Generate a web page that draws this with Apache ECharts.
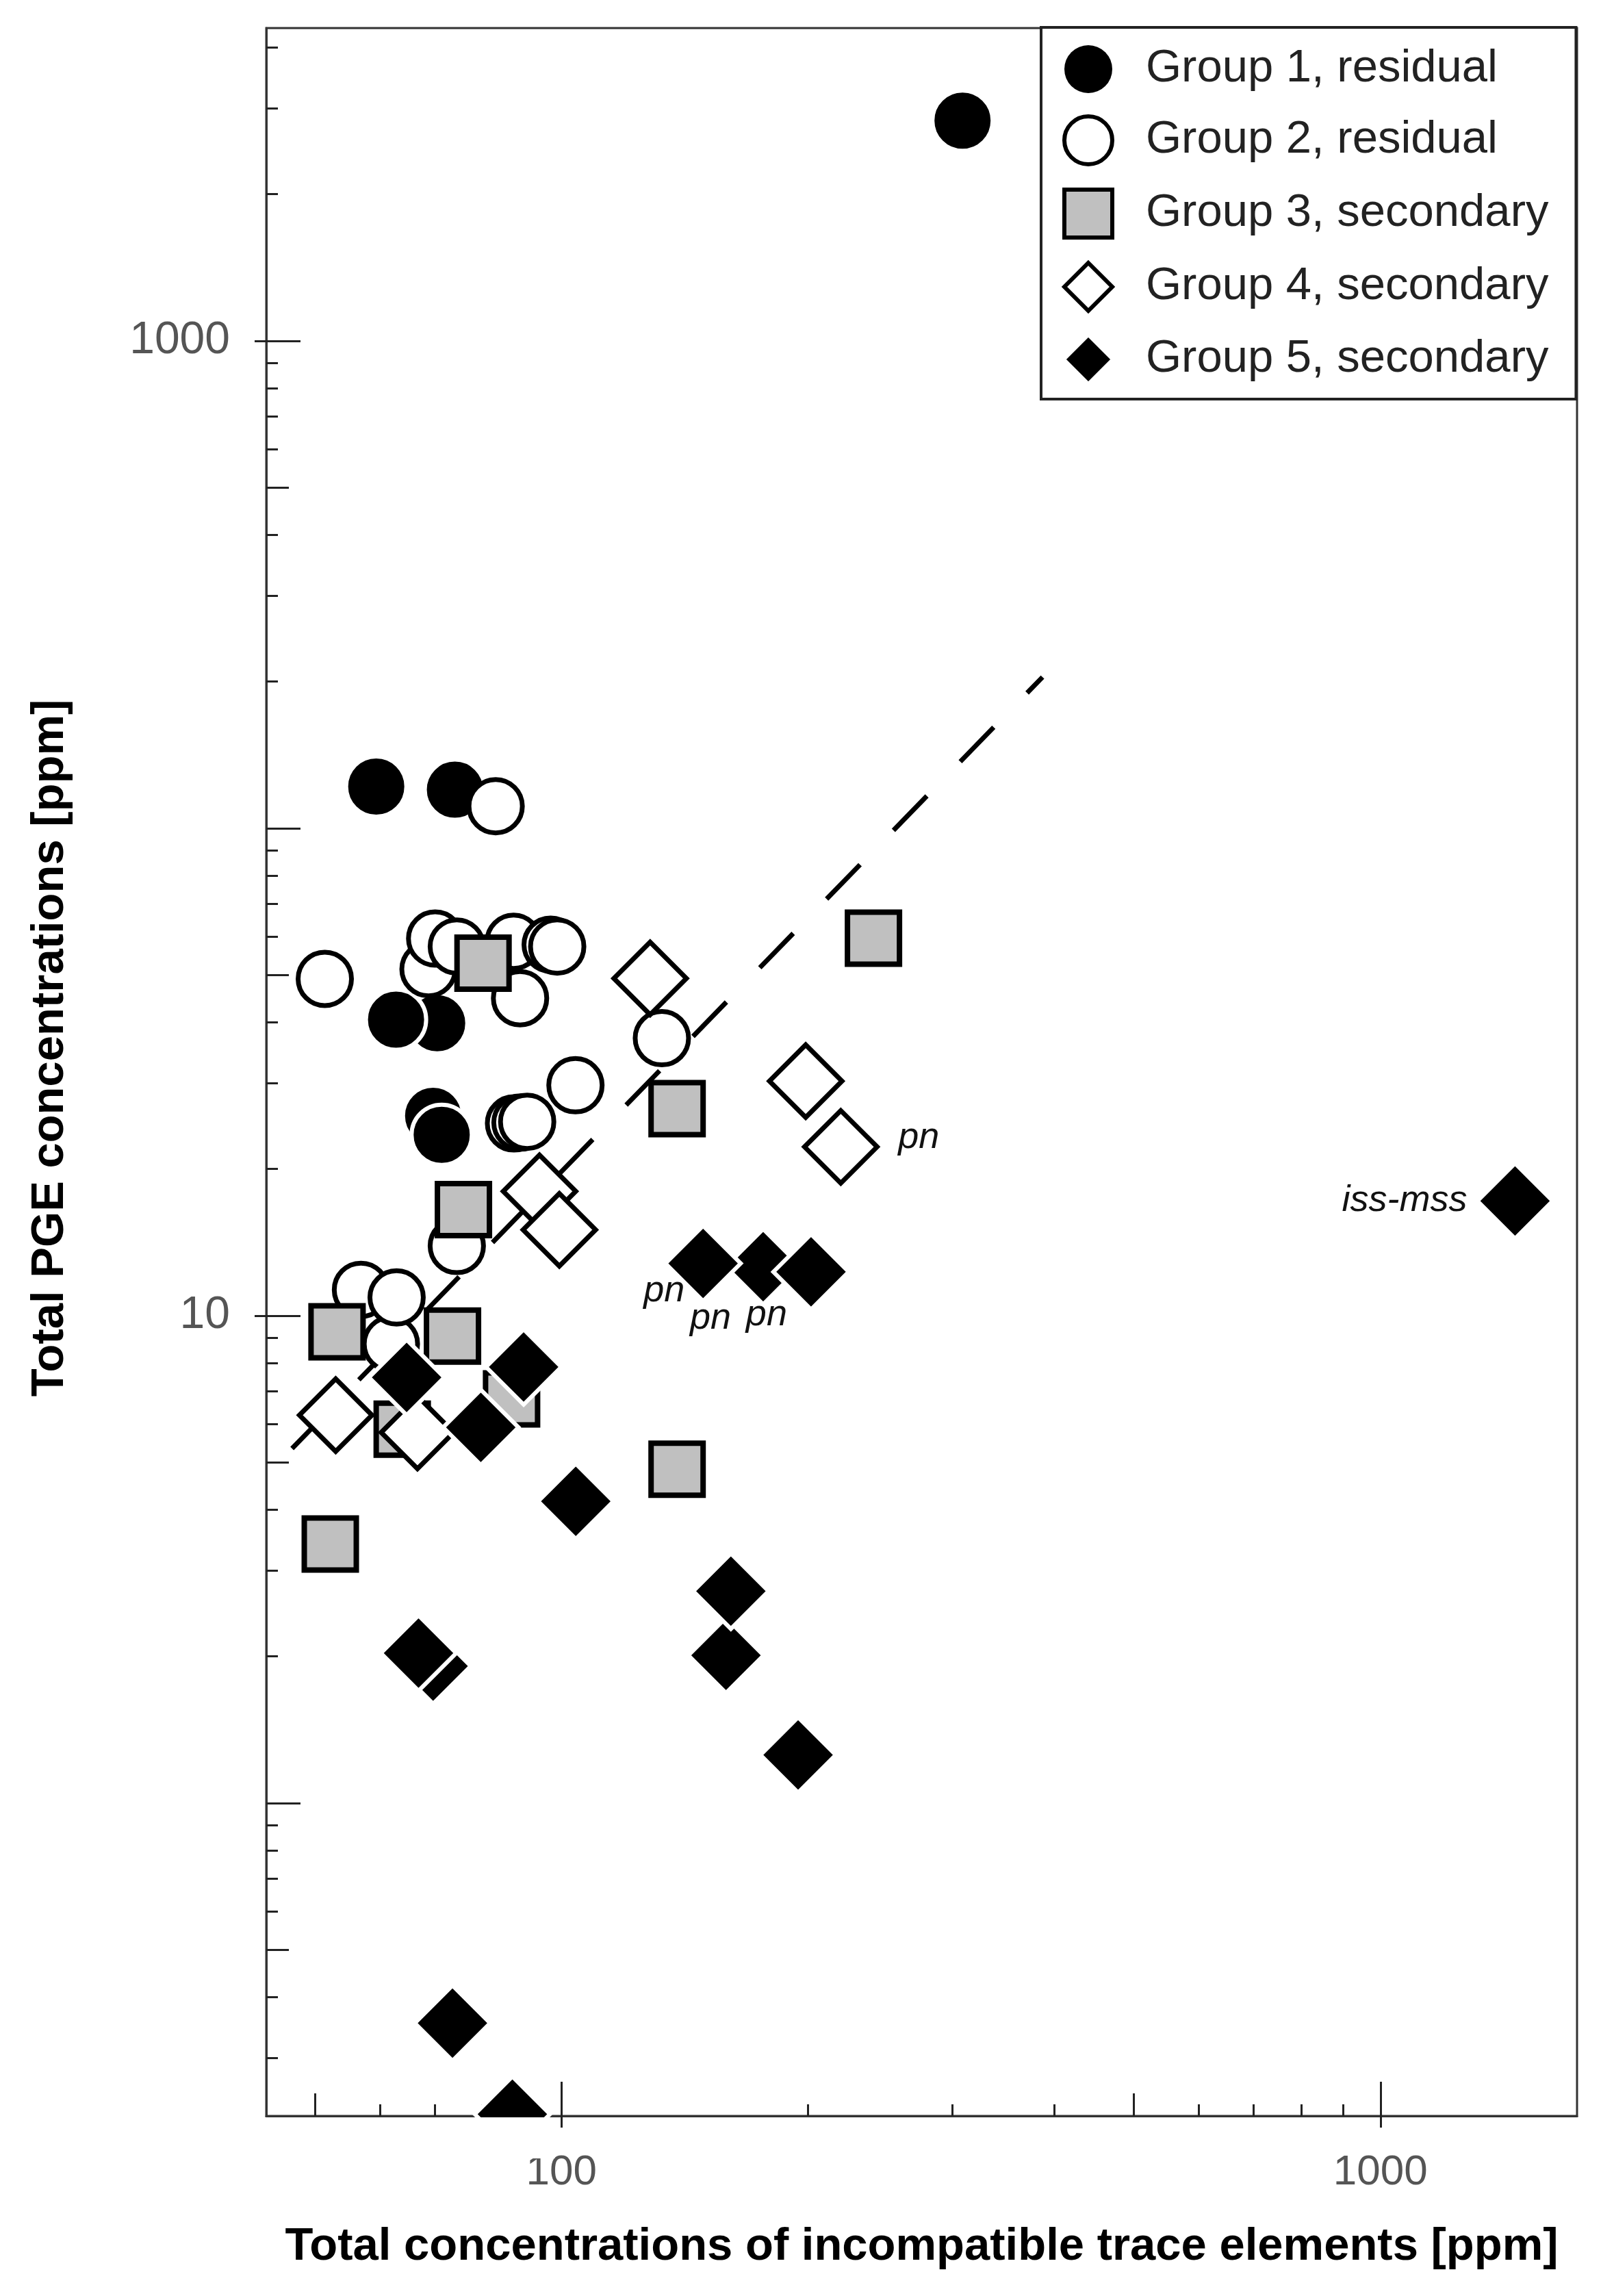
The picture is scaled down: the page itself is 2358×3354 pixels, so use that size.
<!DOCTYPE html>
<html>
<head>
<meta charset="utf-8">
<script src="https://cdn.jsdelivr.net/npm/echarts@6/dist/echarts.min.js"></script>
<style>
  html, body { margin: 0; padding: 0; background: #fff; }
  #chart { width: 2358px; height: 3354px; }
</style>
</head>
<body>
<div id="chart"></div>
<script>
// axis ranges (log scales)
var xMin = 43.6, xMax = 1738;
var yMin = 0.228, yMax = 4385;

// tick values
var xMajorTicks = [100, 1000];
var xMidTicks = [50, 500];
var xMinorTicks = [60, 70, 80, 90, 200, 300, 400, 600, 700, 800, 900];
var yLabelTicks = [10, 1000];
var yMajorTicks = [1, 10, 100, 1000];
var yMidTicks = [0.5, 5, 50, 500];
var yMinorTicks = [0.3, 0.4, 0.6, 0.7, 0.8, 0.9, 2, 3, 4, 6, 7, 8, 9,
    20, 30, 40, 60, 70, 80, 90, 200, 300, 400, 600, 700, 800, 900, 2000, 3000, 4000];

// Group 1, residual (filled circles)
var g1X = [308.8, 59.4, 74.1, 70.5, 62.8, 69.7, 71.4];
var g1Y = [2831, 121.8, 120, 39.8, 40.5, 25.7, 23.5];

// Group 2, residual (open circles)
var g2X = [83.1, 51.4, 68.8, 70.1, 74.5, 87.4, 97, 98.8, 89, 132.6, 104, 87.5, 89.1, 90.8, 56.9, 61.9, 62.9, 74.5];
var g2Y = [111, 49.1, 51.4, 59.4, 57.2, 58.5, 57.7, 57.2, 44.8, 37.1, 29.7, 24.8, 24.9, 25.0, 11.3, 8.75, 10.9, 13.9];

// Group 3, secondary (grey squares)
var g3X = [80.2, 240.4, 138.4, 75.9, 53.2, 73.6, 63.9, 86.9, 138.4, 52.2];
var g3Y = [52.9, 59.5, 26.6, 16.5, 9.27, 9.08, 5.85, 6.75, 4.84, 3.40];

// Group 4, secondary (open diamonds)
var g4X = [128.3, 198.7, 219.3, 94, 99.4, 53, 66.7];
var g4Y = [49.2, 30.3, 22.2, 18.0, 15.0, 6.25, 5.76];
var g4Notes = ['', '', 'pn', '', '', '', ''];

// Group 5, secondary (filled diamonds)
var g5X = [1460, 176.3, 148.9, 201.7, 64.7, 89.9, 79.7, 104.1, 158.8, 161, 194.5, 69.7, 66.9, 73.6, 87.1];
var g5Y = [17.2, 12.6, 12.8, 12.3, 7.47, 7.85, 5.90, 4.16, 2.01, 2.72, 1.255, 1.91, 2.03, 0.3535, 0.23];
var g5Notes = ['iss-mss', 'pn', 'pn', 'pn', '', '', '', '', '', '', '', '', '', '', ''];

// dashed reference line
var trendX = [43.6, 386.7];
var trendY = [4.71, 204.3];

var FONT = 'Liberation Sans';
var tickStyle = { color: '#222', width: 3 };
var axisStyle = { color: '#333', width: 3 };

var chartDom = document.getElementById('chart');
var myChart = echarts.init(chartDom, null, { renderer: 'canvas' });

// one axis per tick length (custom tick values on log axes)
function tickAxis(pos, min, max, ticks, len, inside) {
    return {
        type: 'log', logBase: 10, min: min, max: max, position: pos, gridIndex: 0,
        axisLine: { show: false },
        axisTick: { show: true, inside: inside, length: len, customValues: ticks, lineStyle: tickStyle },
        axisLabel: { show: false },
        splitLine: { show: false },
        minorTick: { show: false }
    };
}

// note offsets [dx, dy] from the symbol centre
var g4NoteOffset = { 2: [114, -13] };
var g5NoteOffset = { 1: [-77, 76], 2: [-57, 40], 3: [-65, 63] };
var noteFont = { fontFamily: FONT, fontStyle: 'italic', fontSize: 54, color: '#111' };

function pairs(xs, ys) {
    return xs.map(function (x, i) { return [x, ys[i]]; });
}

function noteLabel(text, offset) {
    return Object.assign({ show: true, formatter: text, position: 'inside', offset: offset,
        align: 'center', verticalAlign: 'middle' }, noteFont);
}

var g4Data = pairs(g4X, g4Y).map(function (p, i) {
    if (!g4Notes[i]) return p;
    return { value: p, label: noteLabel(g4Notes[i], g4NoteOffset[i]) };
});

var g5Data = pairs(g5X, g5Y).map(function (p, i) {
    if (!g5Notes[i]) return p;
    if (i === 0) {
        return { value: p, label: Object.assign({ show: true, formatter: g5Notes[i], position: 'left', distance: 12 }, noteFont) };
    }
    return { value: p, label: noteLabel(g5Notes[i], g5NoteOffset[i]) };
});

var yTitle = {
    type: 'text', x: 74, y: 1531, rotation: Math.PI / 2, z: 50,
    style: {
        text: 'Total PGE concentrations [ppm]',
        fontFamily: FONT, fontWeight: 'bold', fontSize: 67, fill: '#000',
        align: 'center', verticalAlign: 'middle'
    }
};

var option = {
    backgroundColor: '#fff',
    animation: false,
    grid: {
        left: 389, top: 41, width: 1915, height: 3050,
        show: true, borderColor: '#333', borderWidth: 3, backgroundColor: 'transparent'
    },
    legend: {
        orient: 'vertical',
        left: 1521, top: 40,
        padding: [26, 40, 21, 31],
        itemGap: 31,
        itemWidth: 70, itemHeight: 70,
        backgroundColor: '#fff',
        borderColor: '#222', borderWidth: 4,
        selectedMode: false,
        textStyle: { fontFamily: FONT, fontSize: 67, color: '#222', padding: [0, 0, 0, 44] },
        data: [
            { name: 'Group 1, residual', icon: 'circle', itemStyle: { color: '#000', borderWidth: 0 } },
            { name: 'Group 2, residual', icon: 'circle', itemStyle: { color: '#fff', borderColor: '#000', borderWidth: 6 } },
            { name: 'Group 3, secondary', icon: 'rect', itemStyle: { color: '#c0c0c0', borderColor: '#000', borderWidth: 6 } },
            { name: 'Group 4, secondary', icon: 'diamond', itemStyle: { color: '#fff', borderColor: '#000', borderWidth: 6 } },
            { name: 'Group 5, secondary', icon: 'diamond', itemStyle: { color: '#000', borderColor: '#fff', borderWidth: 4 } }
        ]
    },
    graphic: [yTitle],
    xAxis: [
        {
            type: 'log', logBase: 10, min: xMin, max: xMax, position: 'bottom', gridIndex: 0,
            name: 'Total concentrations of incompatible trace elements [ppm]',
            nameLocation: 'middle', nameGap: 158,
            nameTextStyle: { fontFamily: FONT, fontWeight: 'bold', fontSize: 67, color: '#000' },
            axisLine: { show: true, lineStyle: axisStyle },
            axisTick: { show: true, inside: true, length: 50, customValues: xMajorTicks, lineStyle: tickStyle },
            axisLabel: {
                show: true, customValues: xMajorTicks, margin: 52,
                fontFamily: FONT, fontSize: 62, color: '#555',
                formatter: function (v) { return String(Math.round(v)); }
            },
            splitLine: { show: false },
            minorTick: { show: false }
        },
        tickAxis('bottom', xMin, xMax, xMajorTicks, 17, false),
        tickAxis('bottom', xMin, xMax, xMidTicks, 33, true),
        tickAxis('bottom', xMin, xMax, xMinorTicks, 17, true)
    ],
    yAxis: [
        {
            type: 'log', logBase: 10, min: yMin, max: yMax, position: 'left', gridIndex: 0,
            axisLine: { show: true, lineStyle: axisStyle },
            axisTick: { show: true, inside: true, length: 50, customValues: yMajorTicks, lineStyle: tickStyle },
            axisLabel: {
                show: true, customValues: yLabelTicks, margin: 53,
                fontFamily: FONT, fontSize: 66, color: '#555',
                formatter: function (v) { return String(Math.round(v)); }
            },
            splitLine: { show: false },
            minorTick: { show: false }
        },
        tickAxis('left', yMin, yMax, yLabelTicks, 17, false),
        tickAxis('left', yMin, yMax, yMidTicks, 33, true),
        tickAxis('left', yMin, yMax, yMinorTicks, 17, true)
    ],
    series: [
        {
            name: 'trend', type: 'line', z: 1,
            data: pairs(trendX, trendY),
            symbol: 'none', silent: true,
            lineStyle: { color: '#000', width: 7, type: [70, 70], dashOffset: 86 }
        },
        {
            name: 'Group 1, residual', type: 'scatter', z: 2,
            symbol: 'circle', symbolSize: 88,
            itemStyle: { color: '#000', borderColor: '#fff', borderWidth: 6, opacity: 1 },
            data: pairs(g1X, g1Y)
        },
        {
            name: 'Group 2, residual', type: 'scatter', z: 3,
            symbol: 'circle', symbolSize: 78,
            itemStyle: { color: '#fff', borderColor: '#000', borderWidth: 7, opacity: 1 },
            data: pairs(g2X, g2Y)
        },
        {
            name: 'Group 3, secondary', type: 'scatter', z: 4,
            symbol: 'rect', symbolSize: 76,
            itemStyle: { color: '#c0c0c0', borderColor: '#000', borderWidth: 8, opacity: 1 },
            data: pairs(g3X, g3Y)
        },
        {
            name: 'Group 4, secondary', type: 'scatter', z: 5,
            symbol: 'diamond', symbolSize: 106,
            itemStyle: { color: '#fff', borderColor: '#000', borderWidth: 7, opacity: 1 },
            data: g4Data
        },
        {
            name: 'Group 5, secondary', type: 'scatter', z: 6,
            symbol: 'diamond', symbolSize: 110,
            itemStyle: { color: '#000', borderColor: '#fff', borderWidth: 6, opacity: 1 },
            data: g5Data
        }
    ]
};

myChart.setOption(option);

// the lowest diamond sits on the bottom edge; hide the part below the axis
var last = g5X.length - 1;
var pt = myChart.convertToPixel({ gridIndex: 0 }, [g5X[last], g5Y[last]]);
var axisY = myChart.convertToPixel({ yAxisIndex: 0 }, yMin);
myChart.setOption({
    graphic: [yTitle, {
        type: 'rect', z: 100,
        shape: { x: pt[0] - 62, y: axisY + 2, width: 124, height: 60 },
        style: { fill: '#fff' }
    }]
});
</script>
</body>
</html>
